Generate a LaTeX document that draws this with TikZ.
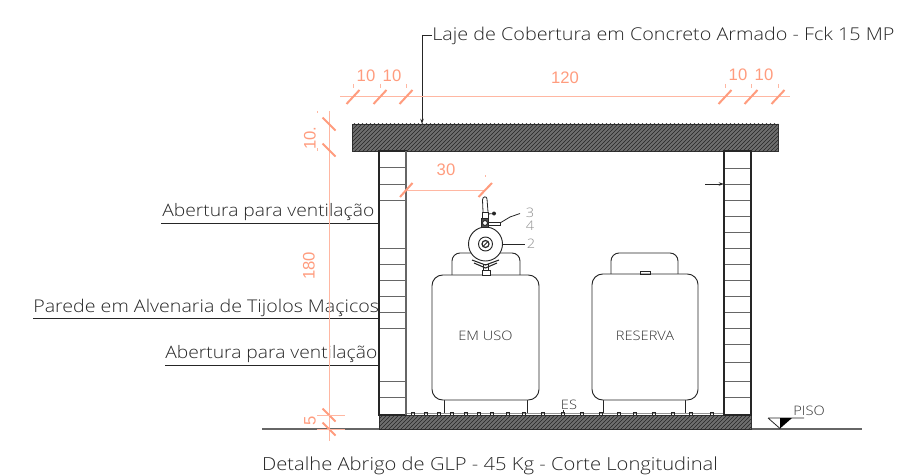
\documentclass[tikz,border=0pt]{standalone}
\usepackage{fontspec}
\setmainfont{Liberation Sans}
\newfontfamily\cadfont[FakeStretch=1.12]{Open Sans Light}
\usetikzlibrary{patterns,arrows.meta}
\definecolor{dimc}{HTML}{FF9C7E}
\definecolor{dimt}{HTML}{FFB7A2}
\definecolor{gline}{HTML}{666666}
\definecolor{hatchbg}{HTML}{6E6E6E}
\tikzset{
  hatchbox/.style={draw=black!80,line width=0.7pt,fill=hatchbg,postaction={pattern=north east lines,pattern color=black!85}},
  wallbox/.style={draw=black!85,line width=0.9pt},
  brick/.style={draw=gline,line width=0.55pt},
  cyl/.style={draw=black!85,line width=0.7pt},
  thinpart/.style={draw=black!85,line width=0.6pt},
  dimline/.style={draw=dimt,line width=0.75pt},
  dimtick/.style={draw=dimc,line width=1.5pt},
  dimmark/.style={draw=dimt,line width=0.4pt},
  dimtext/.style={text=dimc,font=\fontsize{12.5}{14}\selectfont,inner sep=0pt},
  leader/.style={draw=black!85,line width=0.6pt},
  note/.style={font=\cadfont\fontsize{13.25}{15}\selectfont,text=black!85,inner sep=0pt},
  noteab/.style={font=\cadfont\fontsize{12.9}{15}\selectfont,text=black!85,inner sep=0pt},
  notepar/.style={font=\cadfont\fontsize{13.15}{15}\selectfont,text=black!85,inner sep=0pt},
  notetit/.style={font=\cadfont\fontsize{13.5}{15}\selectfont,text=black!85,inner sep=0pt},
  small/.style={font=\cadfont\fontsize{9.8}{11}\selectfont,text=black!80,inner sep=0pt},
  partno/.style={font=\cadfont\fontsize{9.8}{11}\selectfont,text=black!45,inner sep=0pt},
  square/.style={draw=black!85,line width=0.4pt,minimum width=2.6pt,minimum height=2.6pt,inner sep=0pt},
}
\begin{document}
\begin{tikzpicture}[x=0.75pt,y=-0.75pt]
\useasboundingbox (0,0) rectangle (898,474);
% ground
\coordinate (g1) at (262,429); \coordinate (g2) at (379,429);
\coordinate (g3) at (751,429); \coordinate (g4) at (862,429);
\draw[draw=gline,line width=0.9pt] (g1)--(g2) (g3)--(g4);
% floor top line
\coordinate (f1) at (406,413); \coordinate (f2) at (724,413);
\draw[draw=gline!70,line width=0.6pt] (f1)--(f2);
\foreach \x in {413,426,439,452,466,479,492,508,524,543,563,582,601,619,635,654,673,691,712}
  \node[square] (sq\x) at (\x,413.8) {};
% structure
\draw[hatchbox] (379,415) rectangle (751,429);
\draw[hatchbox] (352,124) rectangle (778,151);
\foreach \y in {167,184,200,248,264,280,296,312,328,381,397}
  \draw[brick] (379,\y)--(406,\y);
\foreach \y in {168,184,200,216,232,248,264,280,296,312,328,344,362,381,397}
  \draw[brick] (724,\y)--(751,\y);
\draw[wallbox] (379,151) rectangle (406,415);
\draw[draw=gline,line width=1.1pt] (406,151)--(406,415);
\draw[wallbox] (724,151) rectangle (751,415);
% EM USO cylinder
\draw[cyl] (444,400)--(444,413) (527,400)--(527,413);
\draw[cyl,rounded corners=6pt] (452,275)--(452,253)--(520,253)--(520,275);
\node[cyl,draw,rounded corners=8pt,minimum width=107pt*0.75,minimum height=125pt*0.75,inner sep=0pt,fill=white] (emuso) at (485.5,337.5) {};
\node[small] (emusot) at (485.5,336) {EM USO};
% RESERVA cylinder
\draw[cyl] (603,400)--(603,413) (685.5,400)--(685.5,413);
\draw[cyl,rounded corners=6pt] (611,274)--(611,253)--(678,253)--(678,274);
\node[cyl,draw,rounded corners=8pt,minimum width=106pt*0.75,minimum height=126pt*0.75,inner sep=0pt,fill=white] (reserva) at (645,337) {};
\node[small] (reservat) at (645,336) {RESERVA};
\draw[thinpart] (640,271) rectangle (650,274);
% regulator
\draw[thinpart,fill=white] (482,270) rectangle (490,275);
\draw[thinpart] (483.5,264) rectangle (488.5,270);
\draw[thinpart,line width=0.8pt] (472,260)--(485.5,265)--(499,260) (474,263)--(485.5,268)--(497,263);
\node[circle,draw=black!85,line width=0.7pt,minimum size=34*0.75pt,inner sep=0pt,fill=white] (reg) at (485.5,244) {};
\node[circle,draw=black!85,line width=0.7pt,minimum size=14*0.75pt,inner sep=0pt] (regb) at (reg) {};
\node[circle,draw=black!85,line width=0.9pt,minimum size=7*0.75pt,inner sep=0pt] (regc) at (reg) {};
\draw[thinpart] (483.3,246.2)--(487.7,241.8);
\draw[thinpart,fill=black!70] (481,218) rectangle (488.5,227);
\node[circle,fill=white,draw=black!85,line width=0.7pt,minimum size=5*0.75pt,inner sep=0pt] (bolt) at (485,223) {};
\draw[thinpart] (488,222) rectangle (500,225);
\draw[thinpart] (482,212) rectangle (488.5,218);
\node[circle,fill=black!85,minimum size=4*0.75pt,inner sep=0pt] (knob) at (494,213.5) {};
\draw[thinpart] (488,214)--(knob);
\draw[thinpart] (483,212)--(482.5,200) .. controls (482.5,196) and (487,196) .. (487,199)--(488,212);
% part labels
\node[partno] (l3) at (530,213) {3};
\node[partno] (l4) at (530,226) {4};
\node[partno] (l2) at (531,244) {2};
\coordinate (lp) at (510,217); \coordinate (lq) at (520,213.5); \coordinate (lr) at (500,223);
\draw[leader] (lr)--(lp)--(lq);
\coordinate (s2) at (525,244);
\draw[leader] (reg.east)--(s2);
% leaders and notes
\node[note,anchor=west] (laje) at (432,36) {Laje de Cobertura em Concreto Armado - Fck 15 MP};
\coordinate (lj) at (422,35); \coordinate (ljb) at (422,124);
\draw[leader] (laje.west |- lj)--(lj);
\draw[leader,-{Stealth[length=4pt,width=2.6pt]}] (lj)--(ljb);
\node[noteab,anchor=base west] (ab1) at (162,216) {Abertura para ventilação};
\coordinate (ab1a) at (161,223); \coordinate (ab1b) at (379,223);
\draw[leader] (ab1a)--(ab1b);
\node[notepar,anchor=base west] (par) at (33,312) {Parede em Alvenaria de Tijolos Maçicos};
\coordinate (para) at (33,318); \coordinate (parb) at (379,318);
\draw[leader] (para)--(parb);
\node[noteab,anchor=base west] (ab2) at (165,358) {Abertura para ventilação};
\coordinate (ab2a) at (165,365); \coordinate (ab2b) at (379,365);
\draw[leader] (ab2a)--(ab2b);
\coordinate (ra) at (705,184); \coordinate (rb) at (724,184);
\draw[leader,-{Stealth[length=4pt,width=2.6pt]}] (ra)--(rb);
\node[notetit,anchor=base] (tit) at (490,470) {Detalhe Abrigo de GLP - 45 Kg - Corte Longitudinal};
\node[small,anchor=base] (es) at (569,409) {ES};
\coordinate (esa) at (563,410); \coordinate (esb) at (563,413);
\draw[leader] (esa)--(esb);
% PISO
\node[small,anchor=base west] (piso) at (793,415) {PISO};
\coordinate (p1) at (768,418); \coordinate (p2) at (804,418); \coordinate (p3) at (780,428.5); \coordinate (p4) at (792,418); \coordinate (p5) at (780,418);
\draw[leader] (p1)--(p2) (p1)--(p3);
\fill[black] (p5)--(p4)--(p3)--cycle;
% horizontal dimension
\coordinate (d1) at (340,97); \coordinate (d2) at (790,97);
\draw[dimline] (d1)--(d2);
\foreach \x in {353,380,406,725,751,778} {
  \draw[dimtick] (\x-6.5,104)--(\x+6.5,90);
  \draw[dimmark] (\x,84)--(\x,88);
}
\node[dimtext] (h1) at (366,76) {10};
\node[dimtext] (h2) at (392,76) {10};
\node[dimtext] (h3) at (565,78) {120};
\node[dimtext] (h4) at (738,75) {10};
\node[dimtext] (h5) at (764,75) {10};
% 30 dimension
\coordinate (t1) at (406,190); \coordinate (t2) at (485,190);
\draw[dimline] (t1)--(t2);
\draw[dimtick] (400,197)--(412.5,183);
\draw[dimtick] (478.5,197)--(492,183);
\draw[dimmark] (485,175)--(485,177);
\node[dimtext] (h30) at (446,170) {30};
% vertical dimension
\coordinate (v1) at (329,111); \coordinate (v2) at (329,441);
\draw[dimline] (v1)--(v2);
\foreach \y in {124,150,415,429}
  \draw[dimtick] (322.5,\y-6.5)--(335.5,\y+6.5);
\coordinate (w1) at (317,415); \coordinate (w2) at (345,415);
\coordinate (w3) at (317,429); \coordinate (w4) at (345,429);
\draw[dimline] (w1)--(w2) (w3)--(w4);
\draw[dimmark] (317,111)--(317,113) (317,148)--(317,151);
\node[dimtext,rotate=90] (vv1) at (310,138) {10.};
\node[dimtext,rotate=90] (vv2) at (309,266) {180};
\node[dimtext,rotate=90] (vv3) at (310,421) {5};
\end{tikzpicture}
\end{document}
